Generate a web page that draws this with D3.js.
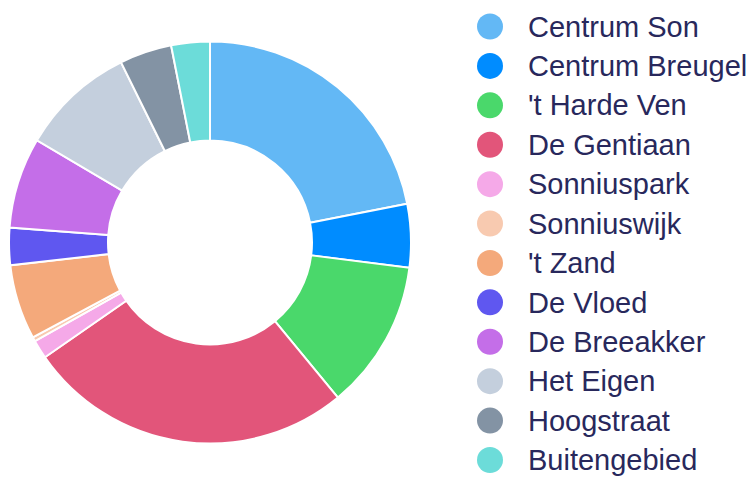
<!DOCTYPE html>
<html>
<head>
<meta charset="utf-8">
<script src="https://cdn.jsdelivr.net/npm/d3@7"></script>
<style>
  html, body { margin: 0; padding: 0; background: #fff; }
  svg { display: block; }
</style>
</head>
<body>
<div id="chart"></div>
<script>
const wijken = [
  'Centrum Son', 'Centrum Breugel', "'t Harde Ven", 'De Gentiaan', 'Sonniuspark',
  'Sonniuswijk', "'t Zand", 'De Vloed', 'De Breeakker', 'Het Eigen', 'Hoogstraat', 'Buitengebied'
];
const aandeel = [21.9, 5.1, 12.0, 26.3, 1.5, 0.35, 6.0, 3.0, 7.3, 9.2, 4.2, 3.1];
const kleuren = [
  '#63b8f5', '#008cff', '#4ad86b', '#e2557a', '#f5a9e8', '#f8cab0',
  '#f4a97b', '#5f57f0', '#c46ee8', '#c4cfdd', '#8393a4', '#6cdcd9'
];

const width = 752;
const height = 478;
const cx = 210, cy = 242.5;
const outer = 201, inner = 102;

const svg = d3.select('#chart').append('svg')
  .attr('width', width)
  .attr('height', height);

const color = d3.scaleOrdinal().domain(wijken).range(kleuren);

const pie = d3.pie().sort(null).value(d => d.v);
const arc = d3.arc().innerRadius(inner).outerRadius(outer);
const data = wijken.map((w, i) => ({ w, v: aandeel[i] }));

svg.append('g')
  .attr('transform', `translate(${cx},${cy})`)
  .selectAll('path')
  .data(pie(data))
  .join('path')
  .attr('d', arc)
  .attr('fill', d => color(d.data.w))
  .attr('stroke', '#fff')
  .attr('stroke-width', 2);

// legend
const y = d3.scalePoint().domain(wijken).range([26.5, 460]);
const legend = svg.append('g')
  .selectAll('g')
  .data(wijken)
  .join('g')
  .attr('transform', d => `translate(490,${y(d)})`);

legend.append('circle')
  .attr('r', 13)
  .attr('fill', d => color(d));

legend.append('text')
  .attr('x', 38)
  .attr('dy', '0.35em')
  .attr('font-family', '"Liberation Sans", Arial, sans-serif')
  .attr('font-size', 29)
  .attr('fill', '#28285c')
  .text(d => d);
</script>
</body>
</html>
